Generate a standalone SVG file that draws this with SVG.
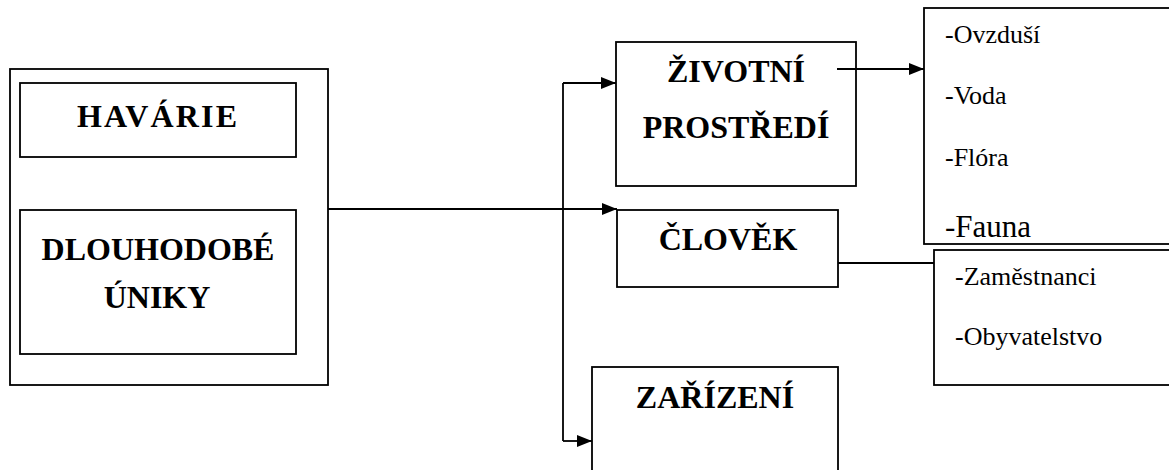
<svg xmlns="http://www.w3.org/2000/svg" width="1169" height="470" viewBox="0 0 1169 470">
<style>
.box{fill:#fff;stroke:#000;stroke-width:1.8}
.ln{fill:none;stroke:#000;stroke-width:1.8}
.b{font-family:"Liberation Serif","Times New Roman",Tinos,"Nimbus Roman","DejaVu Serif",serif;font-weight:bold;font-size:32px;text-anchor:middle;fill:#000}
.r{font-family:"Liberation Serif","Times New Roman",Tinos,"Nimbus Roman","DejaVu Serif",serif;font-size:26px;fill:#000}
</style>
<defs>
<marker id="ah" viewBox="0 0 15 12" refX="15" refY="6" markerWidth="15" markerHeight="12" markerUnits="userSpaceOnUse" orient="auto">
<path d="M0,0 L15,6 L0,12 Z" fill="#000"/>
</marker>
</defs>
<g id="zdroj">
<rect class="box" x="10" y="69" width="318" height="316"/>
</g>
<g id="havarie">
<rect class="box" x="20" y="83" width="276" height="74"/>
<text class="b" x="77" y="127" style="text-anchor:start" textLength="160" lengthAdjust="spacing">HAVÁRIE</text>
</g>
<g id="uniky">
<rect class="box" x="20" y="210" width="276" height="144"/>
<text class="b" x="158" y="260">DLOUHODOBÉ</text>
<text class="b" x="157" y="308">ÚNIKY</text>
</g>
<g id="zivotni">
<rect class="box" x="616" y="42" width="240" height="144"/>
<text class="b" x="736" y="82">ŽIVOTNÍ</text>
<text class="b" x="736" y="138">PROSTŘEDÍ</text>
</g>
<g id="clovek">
<rect class="box" x="617" y="210" width="221" height="77"/>
<text class="b" x="728" y="250">ČLOVĚK</text>
</g>
<g id="zarizeni">
<rect class="box" x="592" y="367" width="246" height="120"/>
<text class="b" x="715" y="408">ZAŘÍZENÍ</text>
</g>
<g id="slozky">
<rect class="box" x="924" y="8" width="260" height="236"/>
<text class="r" x="945" y="43">-Ovzduší</text>
<text class="r" x="945" y="104">-Voda</text>
<text class="r" x="945" y="166">-Flóra</text>
<text class="r" x="945" y="237" style="font-size:31px">-Fauna</text>
</g>
<g id="lide">
<rect class="box" x="934" y="250" width="250" height="135"/>
<text class="r" x="955" y="285">-Zaměstnanci</text>
<text class="r" x="955" y="345">-Obyvatelstvo</text>
</g>
<g id="connectors">
<line class="ln" x1="328" y1="209" x2="617" y2="209" marker-end="url(#ah)"/>
<line class="ln" x1="563" y1="83" x2="563" y2="441"/>
<line class="ln" x1="563" y1="83" x2="616" y2="83" marker-end="url(#ah)"/>
<line class="ln" x1="563" y1="441" x2="592" y2="441" marker-end="url(#ah)"/>
<line class="ln" x1="837" y1="69" x2="924" y2="69" marker-end="url(#ah)"/>
<line class="ln" x1="838" y1="263" x2="934" y2="263"/>
</g>
</svg>
